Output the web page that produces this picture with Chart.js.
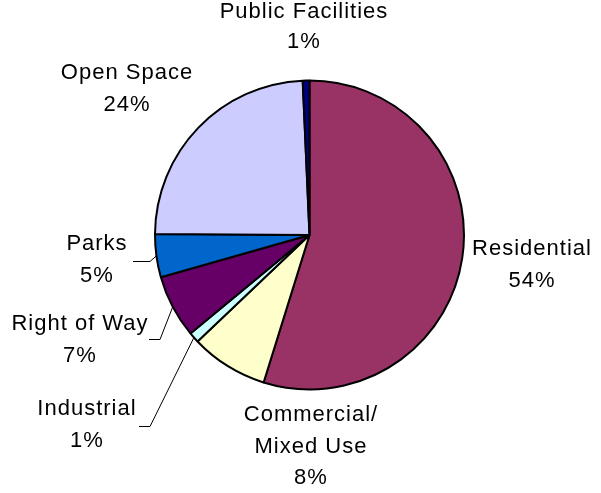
<!DOCTYPE html>
<html>
<head>
<meta charset="utf-8">
<script src="https://cdn.jsdelivr.net/npm/chart.js@4"></script>
<style>
  html, body { margin: 0; padding: 0; background: #fff; }
  #wrap { width: 601px; height: 493px; }
</style>
</head>
<body>
<div id="wrap"><canvas id="pie" width="601" height="493"></canvas></div>
<script>
// land use shares, clockwise from 12 o'clock
const categories = ['Residential', 'Commercial/\nMixed Use', 'Industrial', 'Right of Way', 'Parks', 'Open Space', 'Public Facilities'];
const shares = [54.8, 8.1, 1.1, 6.6, 4.5, 24.2, 0.7];
const pctLabels = ['54%', '8%', '1%', '7%', '5%', '24%', '1%'];
const colors = ['#993366', '#FFFFCC', '#CCFFFF', '#660066', '#0066CC', '#CCCCFF', '#000080'];

// where each label block sits (center x, first baseline y) and optional leader elbow
const labelPos = [
  { x: 532, y: 255 },
  { x: 311, y: 421 },
  { x: 87, y: 415, leader: [[139, 426], [150, 426]] },
  { x: 80, y: 330, leader: [[149, 339], [160, 339]] },
  { x: 97, y: 250, leader: [[133, 261], [150, 261]] },
  { x: 127, y: 79 },
  { x: 304, y: 18, lh: 30 }
];
const lineH = 31.5;

const labelPlugin = {
  id: 'outLabels',
  afterDatasetsDraw(chart) {
    const ctx = chart.ctx;
    const arcs = chart.getDatasetMeta(0).data;
    ctx.save();
    // leader lines
    ctx.strokeStyle = '#000';
    ctx.lineWidth = 1;
    arcs.forEach((arc, i) => {
      const p = labelPos[i];
      if (!p.leader) return;
      const { x, y, startAngle, endAngle, outerRadius } = arc.getProps(['x', 'y', 'startAngle', 'endAngle', 'outerRadius'], true);
      const mid = (startAngle + endAngle) / 2;
      const ex = x + Math.cos(mid) * outerRadius;
      const ey = y + Math.sin(mid) * outerRadius;
      ctx.beginPath();
      ctx.moveTo(p.leader[0][0], p.leader[0][1] + 0.5);
      ctx.lineTo(p.leader[1][0], p.leader[1][1] + 0.5);
      ctx.lineTo(ex, ey);
      ctx.stroke();
    });
    // text
    ctx.fillStyle = '#000';
    ctx.font = '22px "Liberation Sans", Arial, sans-serif';
    if ('letterSpacing' in ctx) ctx.letterSpacing = '1px';
    ctx.textAlign = 'center';
    ctx.textBaseline = 'alphabetic';
    categories.forEach((c, i) => {
      const p = labelPos[i];
      const lines = c.split('\n').concat(pctLabels[i]);
      lines.forEach((t, k) => ctx.fillText(t, p.x, p.y + k * (p.lh || lineH)));
    });
    ctx.restore();
  }
};

new Chart(document.getElementById('pie'), {
  type: 'pie',
  data: {
    labels: categories,
    datasets: [{
      data: shares,
      backgroundColor: colors,
      borderColor: '#000',
      borderWidth: 2
    }]
  },
  options: {
    responsive: false,
    animation: false,
    layout: { padding: { left: 154, right: 136, top: 79, bottom: 102 } },
    plugins: { legend: { display: false }, tooltip: { enabled: false } }
  },
  plugins: [labelPlugin]
});
</script>
</body>
</html>
